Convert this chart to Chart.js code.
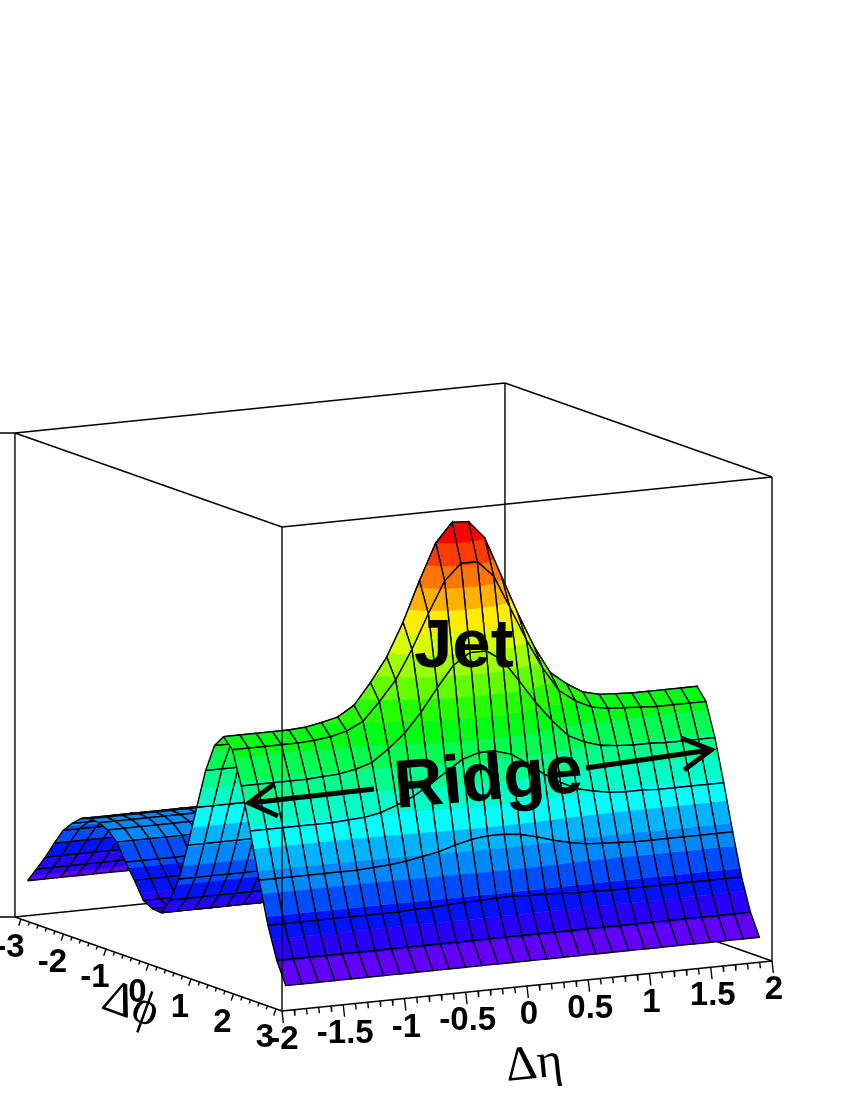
<!DOCTYPE html>
<html>
<head>
<meta charset="utf-8">
<title>Jet and Ridge</title>
<script src="https://cdn.jsdelivr.net/npm/chart.js@4"></script>
<style>
  html, body { margin: 0; padding: 0; background: #fff; }
  canvas { display: block; }
</style>
</head>
<body>
<canvas id="surfaceCanvas" width="850" height="1100"></canvas>
<script>
// bin centres of the two axes
const etaNodes = [-1.933, -1.8, -1.667, -1.533, -1.4, -1.267, -1.133, -1, -0.867, -0.733, -0.6, -0.467, -0.333, -0.2, -0.067, 0.067, 0.2, 0.333, 0.467, 0.6, 0.733, 0.867, 1, 1.133, 1.267, 1.4, 1.533, 1.667, 1.8, 1.933];
const phiNodes = [-3.037, -2.827, -2.618, -2.409, -2.199, -1.99, -1.78, -1.571, -1.361, -1.152, -0.942, -0.733, -0.524, -0.314, -0.105, 0.105, 0.314, 0.524, 0.733, 0.942, 1.152, 1.361, 1.571, 1.78, 1.99, 2.199, 2.409, 2.618, 2.827, 3.037];

// surface height, one row per phi node, one value per eta node
const zRows = [
  [37,37,37,37,37,37,37,37,37,37,37,37,37,37,37,37,37,37,37,37,37,37,37,37,37,37,37,37,37,37],
  [52,52,52,52,52,52,52,52,52,52,52,52,52,52,52,52,52,52,52,52,52,52,52,52,52,52,52,52,52,52],
  [67,67,67,67,67,67,67,67,67,67,67,67,67,67,67,67,67,67,67,67,67,67,67,67,67,67,67,67,67,67],
  [84,84,84,84,84,84,84,84,84,84,84,84,84,84,84,84,84,84,84,84,84,84,84,84,84,84,84,84,84,84],
  [100,100,100,100,100,100,100,100,100,100,100,100,100,100,100,100,100,100,100,100,100,100,100,100,100,100,100,100,100,100],
  [110,110,110,110,110,110,110,110,110,110,110,110,110,110,110,110,110,110,110,110,110,110,110,110,110,110,110,110,110,110],
  [118,118,118,118,118,118,118,118,118,118,118,118,118,118,118,118,118,118,118,118,118,118,118,118,118,118,118,118,118,118],
  [121,121,121,121,121,121,121,121,121,121,121,121,121,121,121,121,121,121,121,121,121,121,121,121,121,121,121,121,121,121],
  [120,120,120,120,120,120,120,120,120,120,120,120,120,120,120,120,120,120,120,120,120,120,120,120,120,120,120,120,120,120],
  [116,116,116,116,116,116,116,116,116,116,116,116,116,116,116,116,116,116,116,116,116,116,116,116,116,116,116,116,116,116],
  [107,107,107,107,107,107,107,107,107,107,107,107,107,107,107,107,107,107,107,107,107,107,107,107,107,107,107,107,107,107],
  [90,90,90,90,90,90,90,90,90,90,90,90,90,90,90,90,90,90,90,90,90,90,90,90,90,90,90,90,90,90],
  [75,75,75,75,75,75,75,75,75,75,75,75,75,75,75,75,75,75,75,75,75,75,75,75,75,75,75,75,75,75],
  [58,58,58,58,58,58,58,58,58,58,58,58,58,58,58,58,58,58,58,58,58,58,58,58,58,58,58,58,58,58],
  [53,53,53,53,53,53,53,53,53,53,53,53,53,53,53,53,53,53,53,53,53,53,53,53,53,53,53,53,53,53],
  [52,52,52,52,52,52,52,52,52,52,52,52,52,52,52,52,52,52,52,52,52,52,52,52,52,52,52,52,52,52],
  [68,68,68,68,68,68,68,68,68,68,68,68,68,68,68,68,68,68,68,68,68,68,68,68,68,68,68,68,68,68],
  [92,92,92,92,92,92,92,92,92,93,93,94,95,95,96,96,95,95,94,93,93,92,92,92,92,92,92,92,92,92],
  [129,129,129,129,129,129,129,130,131,133,136,139,144,148,150,150,148,144,139,135,132,131,130,129,129,129,129,129,129,129],
  [170,170,170,170,170,170,171,172,175,181,188,198,209,220,225,225,220,209,197,187,179,175,172,171,171,170,170,170,170,170],
  [210,210,210,210,210,211,212,215,220,232,246,265,288,309,320,320,309,287,264,244,227,219,214,212,211,211,210,210,210,210],
  [238,238,238,238,238,239,241,245,253,271,291,320,354,385,401,401,385,352,318,288,264,252,244,241,240,239,238,238,238,238],
  [250,250,250,250,250,251,254,258,268,289,313,346,386,422,441,440,422,383,344,309,281,268,258,254,253,252,252,252,252,252],
  [240,240,240,240,240,241,243,247,255,273,293,322,356,387,403,403,387,354,320,290,266,254,246,243,242,241,240,240,240,240],
  [207,207,207,207,207,208,209,212,217,229,243,262,285,306,317,317,306,284,261,241,224,216,211,209,208,208,207,207,207,207],
  [165,165,165,165,165,165,166,167,170,176,183,193,204,215,220,220,215,204,192,182,174,170,167,166,166,165,165,165,165,165],
  [119,119,119,119,119,119,119,120,121,123,126,129,134,138,140,140,138,134,129,125,122,121,120,119,119,119,119,119,119,119],
  [77,77,77,77,77,77,77,77,77,78,78,79,80,80,81,81,80,80,79,78,78,77,77,77,77,77,77,77,77,77],
  [45,45,45,45,45,45,45,45,45,45,45,45,45,45,45,45,45,45,45,45,45,45,45,45,45,45,45,45,45,45],
  [23,23,23,23,23,23,23,23,23,23,23,23,23,23,23,23,23,23,23,23,23,23,23,23,23,23,23,23,23,23]
];

const etaMajorTicks = [-2, -1.5, -1, -0.5, 0, 0.5, 1, 1.5, 2];
const phiMajorTicks = [-3, -2, -1, 0, 1, 2, 3];
const etaMinorTicks = [-1.9, -1.8, -1.7, -1.6, -1.4, -1.3, -1.2, -1.1, -0.9, -0.8, -0.7, -0.6, -0.4, -0.3, -0.2, -0.1, 0.1, 0.2, 0.3, 0.4, 0.6, 0.7, 0.8, 0.9, 1.1, 1.2, 1.3, 1.4, 1.6, 1.7, 1.8, 1.9];
const phiMinorTicks = [-2.8, -2.6, -2.4, -2.2, -1.8, -1.6, -1.4, -1.2, -0.8, -0.6, -0.4, -0.2, 0.2, 0.4, 0.6, 0.8, 1.2, 1.4, 1.6, 1.8, 2.2, 2.4, 2.6, 2.8, 3, -3];

// colour bands, bottom to top
const bandColors = ["#6400ff", "#2900ff", "#0012ff", "#004dff", "#0088ff", "#00b4ff", "#00feff", "#00ffc6", "#00ff8b", "#00ff50", "#00ff15", "#26ff00", "#61ff00", "#9cff00", "#d7ff00", "#ffec00", "#ffb100", "#ff7600", "#ff3b00", "#ff0000"];
const bandStart = 22;
const bandStep = 21.05;

const etaRange = [-2, 2];
const phiRange = [-Math.PI, Math.PI];
const zRange = [0, 484];

// fixed view of the box, same as the picture
function project(eta, phi, z) {
  const back = Math.PI - phi;
  return {
    x: 282 + (eta + 2) * 122.5 - back * 42.5,
    y: 1011 - (eta + 2) * 12.5 - back * 14.96 - z
  };
}

function clipAbove(poly, level) {
  // keeps the part with z >= level
  const out = [];
  for (let i = 0; i < poly.length; i++) {
    const a = poly[i];
    const b = poly[(i + 1) % poly.length];
    if (a.z >= level) out.push(a);
    if ((a.z >= level) !== (b.z >= level)) {
      const t = (level - a.z) / (b.z - a.z);
      out.push({ eta: a.eta + (b.eta - a.eta) * t, phi: a.phi + (b.phi - a.phi) * t, z: level });
    }
  }
  return out;
}

function clipBelow(poly, level) {
  const out = [];
  for (let i = 0; i < poly.length; i++) {
    const a = poly[i];
    const b = poly[(i + 1) % poly.length];
    if (a.z <= level) out.push(a);
    if ((a.z <= level) !== (b.z <= level)) {
      const t = (level - a.z) / (b.z - a.z);
      out.push({ eta: a.eta + (b.eta - a.eta) * t, phi: a.phi + (b.phi - a.phi) * t, z: level });
    }
  }
  return out;
}

function closedPath(poly) {
  const pts = poly.map((p) => project(p.eta, p.phi, p.z));
  pts.push(pts[0]);
  return pts;
}

const GAP = { x: NaN, y: NaN };

function lineSet(data, width) {
  return {
    type: "scatter",
    showLine: true,
    data: data,
    borderColor: "#000",
    borderWidth: width,
    pointRadius: 0,
    fill: false
  };
}

const drawOrder = [];

// box edges that sit behind the surface
const backEdges = [];
[
  [etaRange[0], phiRange[0], 0, etaRange[1], phiRange[0], 0],
  [etaRange[1], phiRange[0], 0, etaRange[1], phiRange[1], 0],
  [etaRange[0], phiRange[0], zRange[0], etaRange[0], phiRange[0], zRange[1]],
  [etaRange[1], phiRange[0], zRange[0], etaRange[1], phiRange[0], zRange[1]]
].forEach((e) => {
  backEdges.push(project(e[0], e[1], e[2]), project(e[3], e[4], e[5]), GAP);
});
drawOrder.push(lineSet(backEdges, 1.4));

// surface cells, painted from the far corner to the near corner
for (let j = 0; j < phiNodes.length - 1; j++) {
  for (let i = etaNodes.length - 2; i >= 0; i--) {
    const cell = [
      { eta: etaNodes[i], phi: phiNodes[j], z: zRows[j][i] },
      { eta: etaNodes[i + 1], phi: phiNodes[j], z: zRows[j][i + 1] },
      { eta: etaNodes[i + 1], phi: phiNodes[j + 1], z: zRows[j + 1][i + 1] },
      { eta: etaNodes[i], phi: phiNodes[j + 1], z: zRows[j + 1][i] }
    ];
    bandColors.forEach((color, k) => {
      const lo = bandStart + k * bandStep;
      const hi = lo + bandStep;
      const zs = cell.map((p) => p.z);
      if (Math.max(...zs) < lo || Math.min(...zs) > hi) return;
      const part = clipBelow(clipAbove(cell, lo), hi);
      if (part.length < 3) return;
      drawOrder.push({
        type: "scatter",
        showLine: true,
        data: closedPath(part),
        backgroundColor: color,
        borderColor: color,
        borderWidth: 0.5,
        pointRadius: 0,
        fill: "shape"
      });
    });
    drawOrder.push(lineSet(closedPath(cell), 1.4));
  }
}

// box edges in front of the surface, and the axis ticks
const frontEdges = [];
[
  [etaRange[0], phiRange[0], 0, etaRange[0], phiRange[1], 0],
  [etaRange[0], phiRange[1], 0, etaRange[1], phiRange[1], 0],
  [etaRange[0], phiRange[1], zRange[0], etaRange[0], phiRange[1], zRange[1]],
  [etaRange[1], phiRange[1], zRange[0], etaRange[1], phiRange[1], zRange[1]],
  [etaRange[0], phiRange[0], zRange[1], etaRange[1], phiRange[0], zRange[1]],
  [etaRange[1], phiRange[0], zRange[1], etaRange[1], phiRange[1], zRange[1]],
  [etaRange[1], phiRange[1], zRange[1], etaRange[0], phiRange[1], zRange[1]],
  [etaRange[0], phiRange[1], zRange[1], etaRange[0], phiRange[0], zRange[1]]
].forEach((e) => {
  frontEdges.push(project(e[0], e[1], e[2]), project(e[3], e[4], e[5]), GAP);
});
// the hidden z axis stub that runs off the left side of the page
const corner = project(etaRange[0], phiRange[0], 0);
const cornerTop = project(etaRange[0], phiRange[0], zRange[1]);
frontEdges.push(corner, { x: 0, y: corner.y }, GAP, cornerTop, { x: 0, y: cornerTop.y }, GAP);

function addTick(list, base, dx, dy) {
  list.push(base, { x: base.x + dx, y: base.y + dy }, GAP);
}
etaMajorTicks.forEach((t) => addTick(frontEdges, project(t, phiRange[1], 0), 1.3, 12));
etaMinorTicks.forEach((t) => addTick(frontEdges, project(t, phiRange[1], 0), 0.6, 6));
phiMajorTicks.forEach((t) => addTick(frontEdges, project(etaRange[0], t, 0), -2.3, 6.7));
phiMinorTicks.forEach((t) => addTick(frontEdges, project(etaRange[0], t, 0), -1.2, 3.5));
drawOrder.push(lineSet(frontEdges, 1.4));

// labels and arrows go on top of everything
const labelPlugin = {
  id: "labelPlugin",
  afterDatasetsDraw(chart) {
    const ctx = chart.ctx;
    const xs = chart.scales.x;
    const ys = chart.scales.y;
    const px = (p) => ({ x: xs.getPixelForValue(p.x), y: ys.getPixelForValue(p.y) });
    ctx.save();
    ctx.fillStyle = "#000";
    ctx.textAlign = "center";
    ctx.textBaseline = "middle";
    ctx.font = "bold 33px 'Liberation Sans'";
    etaMajorTicks.forEach((t) => {
      const p = px(project(t, phiRange[1], 0));
      ctx.fillText(String(t), p.x + 2, p.y + 29);
    });
    phiMajorTicks.forEach((t) => {
      const p = px(project(etaRange[0], t, 0));
      ctx.fillText(String(t), p.x - 11, p.y + 29);
    });

    ctx.textAlign = "left";
    ctx.textBaseline = "alphabetic";
    function rotatedText(text, font, x, y, angle) {
      ctx.save();
      ctx.translate(x, y);
      ctx.rotate(angle * Math.PI / 180);
      ctx.font = font;
      ctx.fillText(text, 0, 0);
      ctx.restore();
    }
    rotatedText("Δϕ", "48px 'Liberation Serif'", 100, 1008, 20);
    rotatedText("Δη", "49px 'Liberation Serif'", 507, 1081, -5.8);
    rotatedText("Jet", "bold 69px 'Liberation Sans'", 414, 667, 0);
    rotatedText("Ridge", "bold 68px 'Liberation Sans'", 396, 808, -5);

    ctx.strokeStyle = "#000";
    ctx.lineWidth = 5;
    ctx.lineCap = "butt";
    ctx.lineJoin = "miter";
    ctx.beginPath();
    ctx.moveTo(374, 789);
    ctx.lineTo(250, 803);
    ctx.moveTo(274, 784);
    ctx.lineTo(249, 803);
    ctx.lineTo(278, 816);
    ctx.moveTo(586, 768);
    ctx.lineTo(710, 750);
    ctx.moveTo(681, 738);
    ctx.lineTo(711, 750);
    ctx.lineTo(684, 770);
    ctx.stroke();
    ctx.restore();
  }
};

new Chart(document.getElementById("surfaceCanvas"), {
  type: "scatter",
  data: { datasets: drawOrder.slice().reverse() },
  plugins: [labelPlugin],
  options: {
    responsive: false,
    animation: false,
    events: [],
    layout: { padding: 0 },
    scales: {
      x: { type: "linear", min: 0, max: 850, display: false },
      y: { type: "linear", min: 0, max: 1100, reverse: true, display: false }
    },
    plugins: {
      legend: { display: false },
      tooltip: { enabled: false },
      title: { display: false }
    }
  }
});
</script>
</body>
</html>
